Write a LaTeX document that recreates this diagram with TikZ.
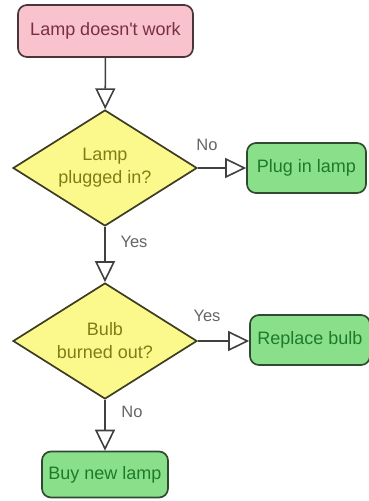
\documentclass[tikz,border=0pt]{standalone}
\usepackage{fontspec}
\setmainfont{Liberation Sans}[Ligatures=TeXOff]
\usetikzlibrary{shapes.geometric,arrows.meta}
\definecolor{pinkfill}{HTML}{F8C3CC}
\definecolor{pinktext}{HTML}{7A2E44}
\definecolor{pinkedge}{HTML}{4A3538}
\definecolor{yelfill}{HTML}{FCF98C}
\definecolor{yeltext}{HTML}{7E7E18}
\definecolor{yeledge}{HTML}{3C3C22}
\definecolor{grnfill}{HTML}{8AE08A}
\definecolor{grntext}{HTML}{1E7A2A}
\definecolor{grnedge}{HTML}{2F4A2F}
\definecolor{connc}{HTML}{404040}
\definecolor{lbl}{HTML}{666666}
\begin{document}
\begin{tikzpicture}[x=1pt,y=-1pt,
  box/.style={line width=1.7pt, rounded corners=9pt, inner sep=0pt,
    font=\fontsize{18}{21}\selectfont},
  startbox/.style={box, draw=pinkedge, fill=pinkfill, text=pinktext},
  endbox/.style={box, draw=grnedge, fill=grnfill, text=grntext},
  decision/.style={diamond, aspect=1.59, draw=yeledge, line width=1.7pt,
    fill=yelfill, text=yeltext, inner sep=0pt, minimum width=184pt,
    minimum height=116pt, align=center, font=\fontsize{18}{23}\selectfont},
  conn/.style={draw=connc, line width=1.6pt,
    -{Triangle[open,length=21pt,width=20pt,line width=1.6pt]}},
  lab/.style={text=lbl, font=\fontsize{16.5}{18}\selectfont, inner sep=0pt}
]
\useasboundingbox (0,0) rectangle (368,501);
\fill[white] (0,0) rectangle (368,501);

\node[startbox, minimum width=175pt, minimum height=52pt] (start) at (105.5,31) {Lamp doesn't work};
\node[decision] (d1) at (105,168) {Lamp\\plugged in?};
\node[endbox, minimum width=119pt, minimum height=50pt] (plug) at (306.5,168) {Plug in lamp};
\node[decision] (d2) at (105,341) {Bulb\\burned out?};
\node[endbox, minimum width=120pt, minimum height=50pt] (repl) at (310,340) {Replace bulb};
\node[endbox, minimum width=126pt, minimum height=46pt] (buy) at (105,474.5) {Buy new lamp};

\draw[conn] (start) -- (d1);
\draw[conn] (d1) -- (plug);
\draw[conn] (d1) -- (d2);
\draw[conn] (d2.east) -- (d2.east -| repl.west);
\draw[conn] (d2) -- (buy);

\node[lab] (l1) at (207,145) {No};
\node[lab] (l2) at (134,242) {Yes};
\node[lab] (l3) at (207,316) {Yes};
\node[lab] (l4) at (132,412) {No};
\end{tikzpicture}
\end{document}
